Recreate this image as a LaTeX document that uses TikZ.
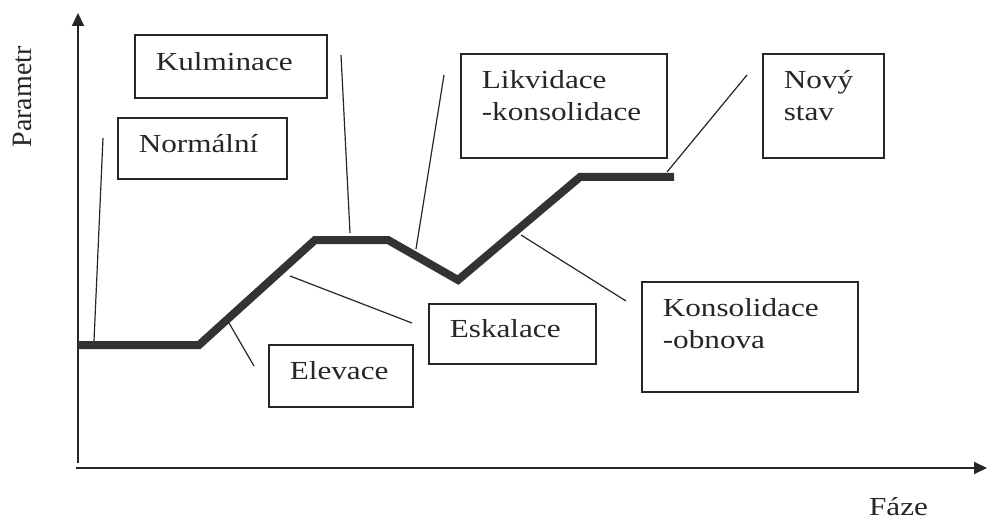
\documentclass[tikz,border=0pt]{standalone}
\usepackage{fontspec}
\setmainfont[FakeStretch=1.2]{Liberation Serif}
\newfontfamily\axisfont{Liberation Serif}
\usetikzlibrary{arrows.meta}
\tikzset{
    box/.style={draw=black!85, text=black!85, line width=0.8pt, anchor=north west,
        inner xsep=10.5pt, inner ysep=0pt, align=left, font=\fontsize{13pt}{16pt}\selectfont},
    link/.style={draw=black!85, line width=0.6pt},
    curve/.style={draw=black!80, line width=4pt},
    axis/.style={draw=black!85, line width=1pt, -{Triangle[length=6.5pt, width=6pt]}}
}
\begin{document}
\begin{tikzpicture}[x=0.5pt, y=-0.5pt]
    \useasboundingbox (0, 0) rectangle (988, 518);
    \coordinate (y1) at (78, 463);
    \coordinate (y2) at (78, 13);
    \coordinate (x1) at (76, 468);
    \coordinate (x2) at (987, 468);
    \draw[axis] (y1) -- (y2);
    \draw[axis] (x1) -- (x2);
    \node[rotate=90, text=black!85, font=\axisfont\fontsize{14pt}{16pt}\selectfont] (param) at (22, 97) {Parametr};
    \node[anchor=base west, text=black!85, font=\fontsize{13pt}{16pt}\selectfont] (faze) at (862, 515) {Fáze};
    \coordinate (p1) at (78, 345);
    \coordinate (p2) at (199, 345);
    \coordinate (p3) at (315, 240);
    \coordinate (p4) at (388, 240);
    \coordinate (p5) at (458, 280);
    \coordinate (p6) at (580, 177);
    \coordinate (p7) at (674, 177);
    \draw[curve] (p1) -- (p2) -- (p3) -- (p4) -- (p5) -- (p6) -- (p7);
    \node[box, text width=63.5pt, text height=17.5pt, text depth=13pt] (normal) at (117, 117) {Normální};
    \node[box, text width=75pt, text height=18pt, text depth=13.5pt] (kulm) at (134, 34) {Kulminace};
    \node[box, text width=82pt, text height=17.5pt, text depth=34.5pt] (likv) at (460, 53) {Likvidace\\-konsolidace};
    \node[box, text width=39.5pt, text height=17.5pt, text depth=34.5pt] (novy) at (762, 53) {Nový\\stav};
    \node[box, text width=62.5pt, text height=17pt, text depth=13pt] (eska) at (428, 303) {Eskalace};
    \node[box, text width=51pt, text height=17.5pt, text depth=13.5pt] (elev) at (268, 344) {Elevace};
    \node[box, text width=87pt, text height=17.5pt, text depth=37.5pt] (kons) at (641, 281) {Konsolidace\\-obnova};
    \coordinate (normal1) at (94, 341);
    \coordinate (normal2) at (103, 138);
    \coordinate (elev1) at (229, 323);
    \coordinate (elev2) at (254, 366);
    \coordinate (eska1) at (290, 276);
    \coordinate (eska2) at (412, 323);
    \coordinate (kulm1) at (350, 233);
    \coordinate (kulm2) at (341, 55);
    \coordinate (likv1) at (416, 249);
    \coordinate (likv2) at (444, 75);
    \coordinate (kons1) at (521, 235);
    \coordinate (kons2) at (626, 301);
    \coordinate (novy1) at (667, 172);
    \coordinate (novy2) at (747, 75);
    \draw[link] (normal1) -- (normal2);
    \draw[link] (elev1) -- (elev2);
    \draw[link] (eska1) -- (eska2);
    \draw[link] (kulm1) -- (kulm2);
    \draw[link] (likv1) -- (likv2);
    \draw[link] (kons1) -- (kons2);
    \draw[link] (novy1) -- (novy2);
\end{tikzpicture}
\end{document}
